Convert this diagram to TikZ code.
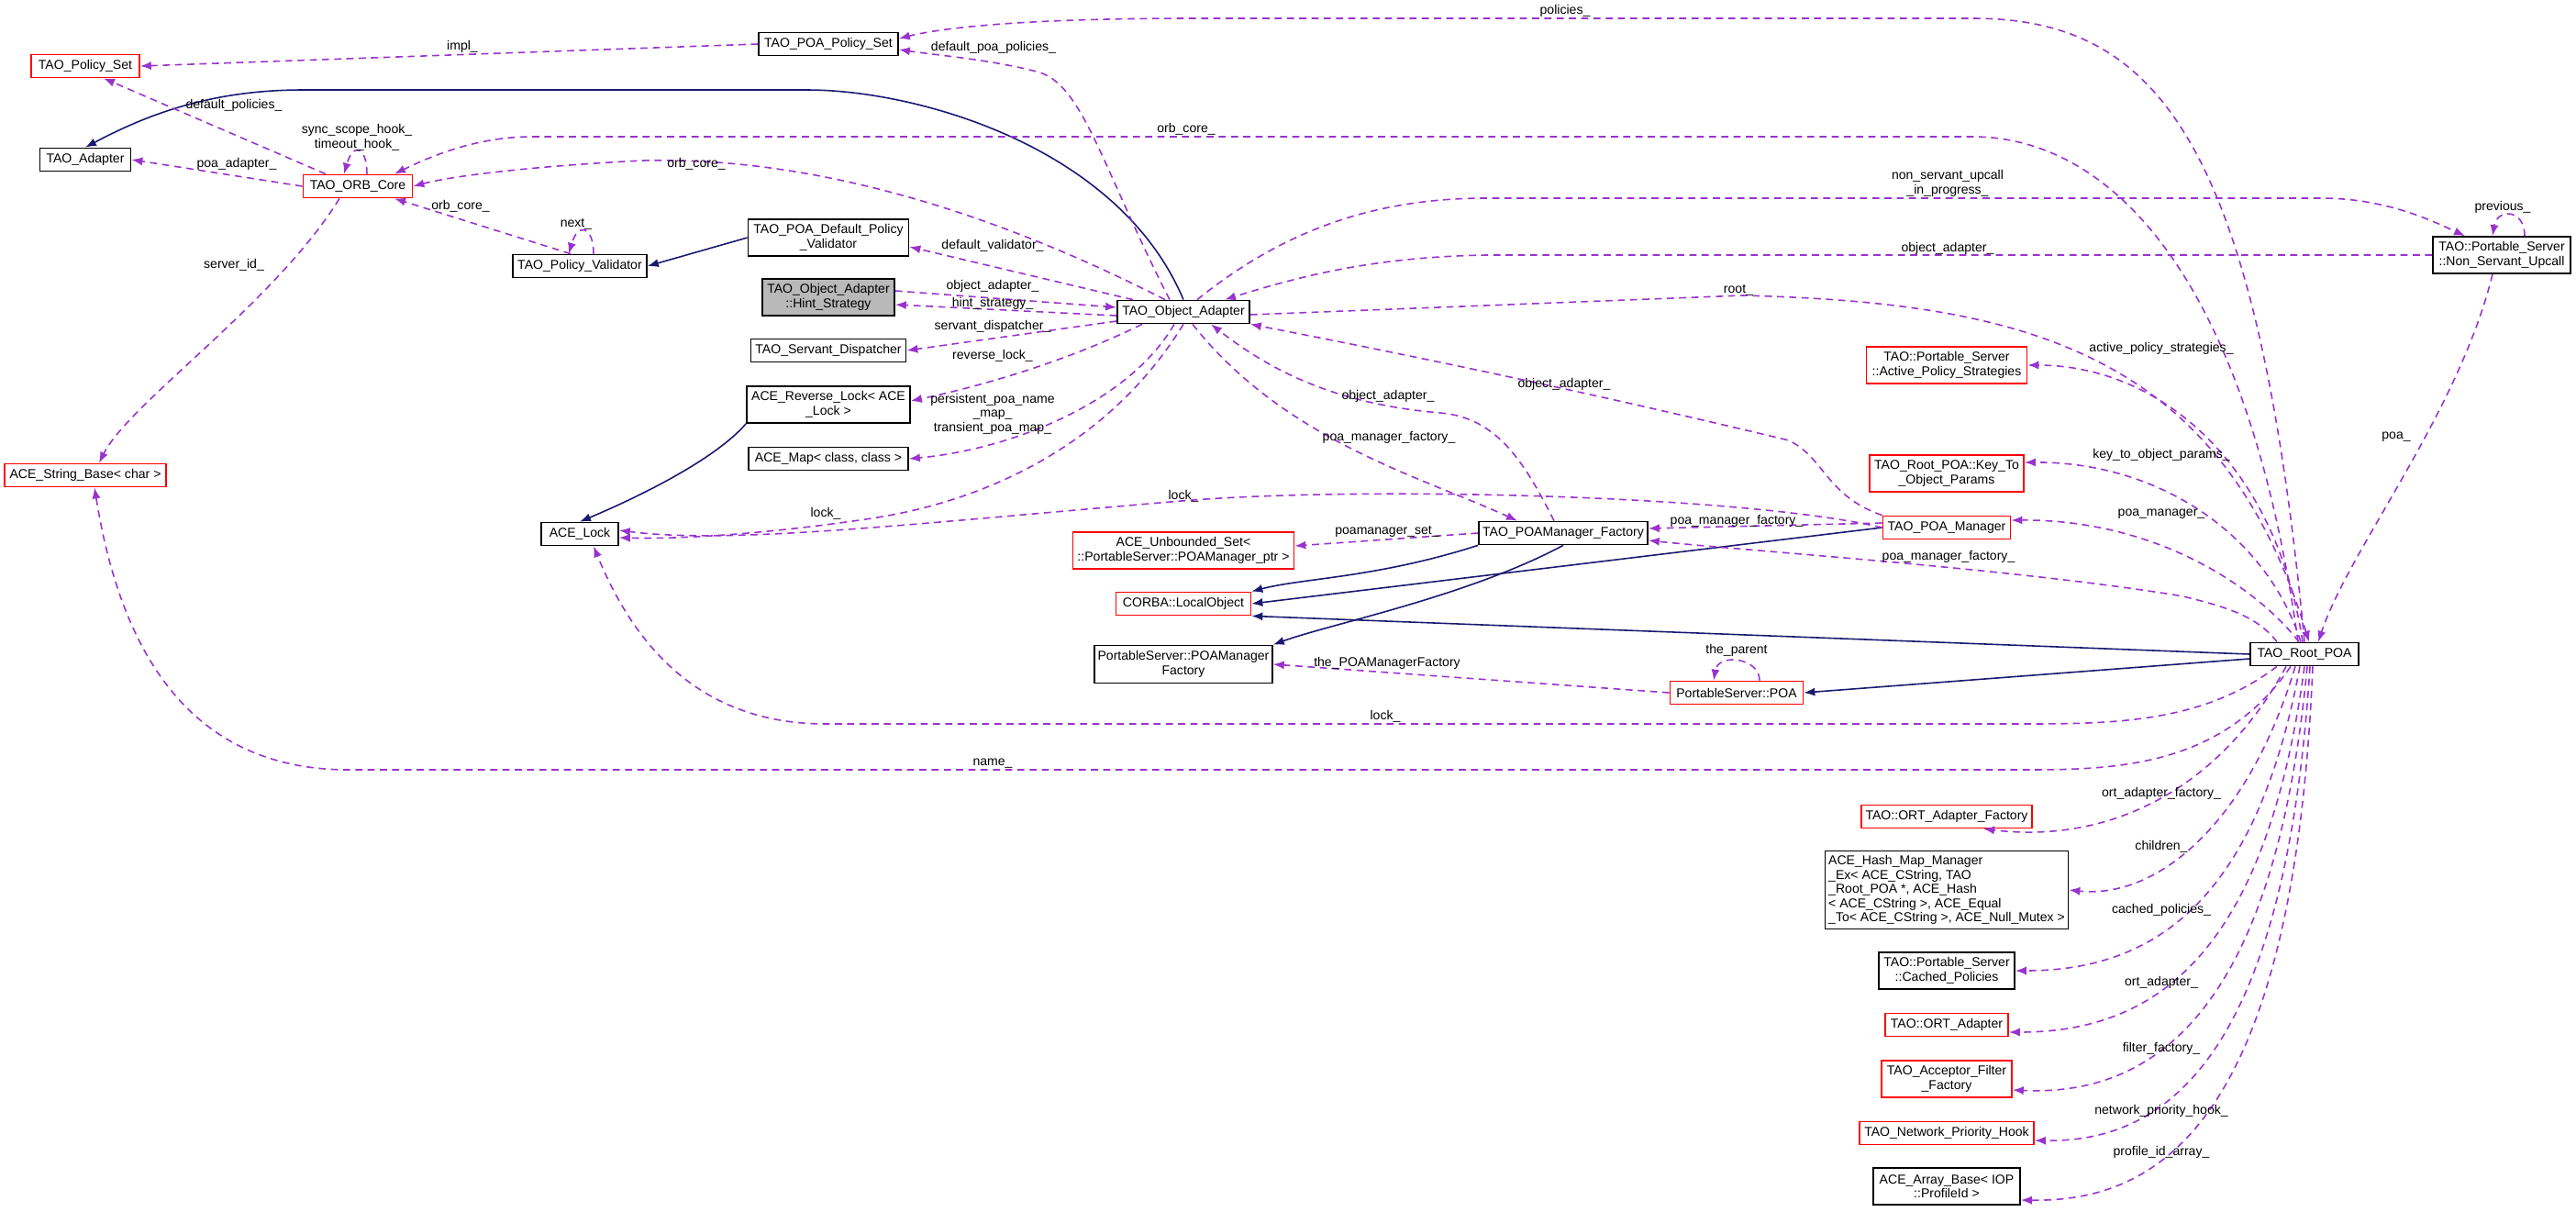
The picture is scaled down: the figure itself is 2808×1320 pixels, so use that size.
\documentclass[tikz,border=0pt]{standalone}
\usepackage{fontspec}
\setmainfont{Liberation Sans}
\usetikzlibrary{arrows.meta}
\definecolor{depcol}{HTML}{9A32CD}
\definecolor{inhcol}{HTML}{191970}
\tikzset{
  cls/.style={draw=black, fill=white, line width=0.5pt, minimum height=0.25cm, inner sep=1pt, align=center, font=\fontsize{4}{4.4}\selectfont},
  clsred/.style={cls, draw=red},
  clsgray/.style={cls, fill=gray!55},
  w/.style={minimum width=#1*0.01cm},
  h/.style={minimum height=#1*0.01cm},
  dep/.style={draw=depcol, dashed, dash pattern=on 2.2pt off 1.6pt, line width=0.45pt, -{Latex[length=3.4pt,width=2.6pt]}},
  inh/.style={draw=inhcol, line width=0.45pt, -{Latex[length=3.4pt,width=2.6pt]}},
  lbl/.style={inner sep=0pt, align=center, font=\fontsize{4}{4.4}\selectfont}
}
\begin{document}
\begin{tikzpicture}[x=0.01cm,y=-0.01cm]
\useasboundingbox (0,0) rectangle (2808,1320);
% classes
\node[clsred,w=118] (policyset) at (93,72) {TAO\_Policy\_Set};
\node[cls,w=152] (poapolicyset) at (903,48) {TAO\_POA\_Policy\_Set};
\node[cls,w=99] (adapter) at (93,174) {TAO\_Adapter};
\node[clsred,w=119] (orbcore) at (390,203) {TAO\_ORB\_Core};
\node[cls,w=146] (validator) at (632,290) {TAO\_Policy\_Validator};
\node[cls,w=175,h=40] (defvalidator) at (903,259) {TAO\_POA\_Default\_Policy\\\_Validator};
\node[clsgray,w=144,h=40] (hint) at (903,324) {TAO\_Object\_Adapter\\::Hint\_Strategy};
\node[cls,w=169] (dispatcher) at (903,382) {TAO\_Servant\_Dispatcher};
\node[cls,w=178,h=40] (revlock) at (903,441) {ACE\_Reverse\_Lock< ACE\\\_Lock >};
\node[cls,w=174] (acemap) at (903,500) {ACE\_Map< class, class >};
\node[clsred,w=176] (stringbase) at (93,518) {ACE\_String\_Base< char >};
\node[cls,w=84] (acelock) at (632,582) {ACE\_Lock};
\node[cls,w=144] (objadapter) at (1290,340) {TAO\_Object\_Adapter};
\node[cls,w=184] (mgrfactory) at (1704,581) {TAO\_POAManager\_Factory};
\node[clsred,w=241,h=40] (unbounded) at (1290,600) {ACE\_Unbounded\_Set<\\::PortableServer::POAManager\_ptr >};
\node[clsred,w=147] (localobj) at (1290,658) {CORBA::LocalObject};
\node[cls,w=193,h=41] (psmgrfactory) at (1290,724) {PortableServer::POAManager\\Factory};
\node[clsred,w=145] (pspoa) at (1893,755) {PortableServer::POA};
\node[cls,w=118] (rootpoa) at (2512,713) {TAO\_Root\_POA};
\node[clsred,w=139] (poamanager) at (2122,575) {TAO\_POA\_Manager};
\node[clsred,w=168,h=40] (keyto) at (2122,516) {TAO\_Root\_POA::Key\_To\\\_Object\_Params};
\node[clsred,w=175,h=40] (activestrat) at (2122,398) {TAO::Portable\_Server\\::Active\_Policy\_Strategies};
\node[cls,w=150,h=40] (nsu) at (2727,278) {TAO::Portable\_Server\\::Non\_Servant\_Upcall};
\node[clsred,w=186] (ortfactory) at (2122,890) {TAO::ORT\_Adapter\_Factory};
\node[cls,w=265,h=85,align=left] (hashmap) at (2122,970) {ACE\_Hash\_Map\_Manager\\\_Ex< ACE\_CString, TAO\\\_Root\_POA *, ACE\_Hash\\< ACE\_CString >, ACE\_Equal\\\_To< ACE\_CString >, ACE\_Null\_Mutex >};
\node[cls,w=148,h=40] (cached) at (2122,1058) {TAO::Portable\_Server\\::Cached\_Policies};
\node[clsred,w=134] (ortadapter) at (2122,1117) {TAO::ORT\_Adapter};
\node[clsred,w=142,h=40] (acceptor) at (2122,1176) {TAO\_Acceptor\_Filter\\\_Factory};
\node[clsred,w=190] (nethook) at (2122,1235) {TAO\_Network\_Priority\_Hook};
\node[cls,w=160,h=40] (arraybase) at (2122,1293) {ACE\_Array\_Base< IOP\\::ProfileId >};
% inheritance
\draw[inh] (objadapter.north) .. controls (1220,160) and (1000,98) .. (880,98) -- (330,98) .. controls (230,98) and (160,125) .. (adapter.north);
\draw[inh] (defvalidator.west) -- (validator.east);
\draw[inh] (revlock.south west) .. controls (780,500) and (700,540) .. (acelock.north);
\draw[inh] (mgrfactory.south west) .. controls (1500,630) and (1420,630) .. (localobj.north east);
\draw[inh] (mgrfactory.south) .. controls (1600,650) and (1450,680) .. (psmgrfactory.north east);
\draw[inh] (poamanager.west) -- (localobj.east);
\draw[inh] (rootpoa.west) -- (localobj.south east);
\draw[inh] ([yshift=-0.05cm]rootpoa.west) -- (pspoa.east);
% usage
\draw[dep] (poapolicyset.west) -- (policyset.east);
\draw[dep] ([xshift=-0.35cm]orbcore.north) -- ([xshift=0.2cm]policyset.south);
\draw[dep] (orbcore.west) -- (adapter.east);
\draw[dep] ([xshift=0.1cm]orbcore.north) .. controls +(0,-30) and +(10,-35) .. ([xshift=-0.15cm]orbcore.north);
\draw[dep] ([xshift=-0.2cm]orbcore.south) .. controls (300,330) and (140,440) .. ([xshift=0.15cm]stringbase.north);
\draw[dep] ([xshift=-0.1cm]validator.north) -- ([xshift=0.4cm]orbcore.south);
\draw[dep] ([xshift=0.15cm]validator.north) .. controls +(0,-30) and +(10,-35) .. ([xshift=-0.12cm]validator.north);
\draw[dep] ([xshift=-0.2cm]objadapter.north) .. controls (1100,240) and (900,170) .. (700,175) .. controls (600,180) and (500,190) .. (orbcore.east);
\draw[dep] ([xshift=-0.07cm]rootpoa.north) .. controls (2450,300) and (2300,149) .. (2150,149) -- (580,149) .. controls (520,149) and (470,170) .. ([xshift=0.4cm]orbcore.north);
\draw[dep] (rootpoa.north) .. controls (2460,150) and (2350,20) .. (2150,20) -- (1300,20) .. controls (1100,20) and (1020,32) .. ([yshift=0.06cm]poapolicyset.east);
\draw[dep] ([xshift=-0.15cm]objadapter.north) .. controls (1200,180) and (1180,90) .. (1130,78) .. controls (1080,65) and (1020,60) .. ([yshift=-0.06cm]poapolicyset.east);
\draw[dep] ([xshift=-0.55cm]objadapter.north) -- ([yshift=-0.1cm]defvalidator.east);
\draw[dep] ([yshift=0.07cm]hint.east) -- ([yshift=0.05cm]objadapter.west);
\draw[dep] ([yshift=-0.04cm]objadapter.west) -- ([yshift=-0.08cm]hint.east);
\draw[dep] ([yshift=-0.1cm]objadapter.west) -- (dispatcher.east);
\draw[dep] ([xshift=-0.45cm]objadapter.south) .. controls (1150,400) and (1050,425) .. ([yshift=0.04cm]revlock.east);
\draw[dep] ([xshift=-0.1cm]objadapter.south) .. controls (1230,440) and (1100,490) .. (acemap.east);
\draw[dep] ([xshift=0cm]objadapter.south) .. controls (1200,500) and (1050,550) .. (950,565) .. controls (850,580) and (750,588) .. ([yshift=-0.04cm]acelock.east);
\draw[dep] (poamanager.west) .. controls (1900,540) and (1500,530) .. (1300,545) .. controls (1000,570) and (800,594) .. ([yshift=0.04cm]acelock.east);
\draw[dep] ([xshift=-0.3cm]rootpoa.south) .. controls (2400,789) and (2300,789) .. (2200,789) -- (900,789) .. controls (760,789) and (690,700) .. ([xshift=0.15cm]acelock.south);
\draw[dep] ([xshift=-0.15cm]rootpoa.south) .. controls (2420,839) and (2300,839) .. (2200,839) -- (380,839) .. controls (200,839) and (130,700) .. ([xshift=0.1cm]stringbase.south);
\draw[dep] ([xshift=0.1cm]objadapter.south) .. controls (1400,480) and (1550,520) .. ([xshift=-0.5cm]mgrfactory.north);
\draw[dep] ([xshift=-0.1cm]mgrfactory.north) .. controls (1660,500) and (1630,455) .. (1570,450) .. controls (1450,440) and (1380,400) .. ([xshift=0.3cm]objadapter.south);
\draw[dep] (poamanager.north west) .. controls (1990,540) and (1990,500) .. (1950,480) .. controls (1700,420) and (1500,380) .. (objadapter.south east);
\draw[dep] ([yshift=-0.03cm]objadapter.east) -- (1900,322) .. controls (2200,330) and (2420,380) .. ([xshift=0.05cm]rootpoa.north);
\draw[dep] ([xshift=0.15cm]objadapter.north) .. controls (1400,250) and (1500,216) .. (1620,216) -- (2530,216) .. controls (2600,216) and (2650,240) .. ([xshift=-0.4cm]nsu.north);
\draw[dep] (nsu.west) -- (1620,278) .. controls (1500,280) and (1420,300) .. ([xshift=0.45cm]objadapter.north);
\draw[dep] ([xshift=0.25cm]nsu.north) .. controls +(0,-30) and +(5,-30) .. ([xshift=-0.1cm]nsu.north);
\draw[dep] ([xshift=-0.1cm]nsu.south) .. controls (2680,450) and (2560,600) .. ([xshift=0.15cm]rootpoa.north);
\draw[dep] ([xshift=-0.02cm]rootpoa.north) .. controls (2480,500) and (2350,398) .. (activestrat.east);
\draw[dep] ([xshift=-0.04cm]rootpoa.north) .. controls (2470,580) and (2350,503) .. ([yshift=0.12cm]keyto.east);
\draw[dep] ([xshift=-0.06cm]rootpoa.north) .. controls (2460,640) and (2350,566) .. ([yshift=0.08cm]poamanager.east);
\draw[dep] ([xshift=-0.3cm]rootpoa.north) .. controls (2460,670) and (2420,660) .. (2380,650) .. controls (2200,620) and (1900,600) .. ([yshift=-0.08cm]mgrfactory.east);
\draw[dep] ([yshift=0.05cm]poamanager.west) -- ([yshift=0.05cm]mgrfactory.east);
\draw[dep] (mgrfactory.west) -- ([yshift=0.05cm]unbounded.east);
\draw[dep] (pspoa.west) -- (psmgrfactory.east);
\draw[dep] ([xshift=0.25cm]pspoa.north) .. controls +(0,-25) and +(5,-30) .. ([xshift=-0.25cm]pspoa.north);
\draw[dep] ([xshift=-0.2cm]rootpoa.south) .. controls (2420,860) and (2300,920) .. ([xshift=0.4cm]ortfactory.south);
\draw[dep] ([xshift=-0.1cm]rootpoa.south) .. controls (2450,900) and (2350,980) .. (hashmap.east);
\draw[dep] ([xshift=-0.05cm]rootpoa.south) .. controls (2460,980) and (2350,1058) .. (cached.east);
\draw[dep] ([xshift=0cm]rootpoa.south) .. controls (2470,1040) and (2350,1125) .. ([yshift=-0.08cm]ortadapter.east);
\draw[dep] ([xshift=0.03cm]rootpoa.south) .. controls (2480,1100) and (2350,1195) .. ([yshift=-0.12cm]acceptor.east);
\draw[dep] ([xshift=0.06cm]rootpoa.south) .. controls (2490,1170) and (2350,1245) .. ([yshift=-0.08cm]nethook.east);
\draw[dep] ([xshift=0.09cm]rootpoa.south) .. controls (2500,1230) and (2350,1310) .. ([yshift=-0.15cm]arraybase.east);
% labels
\node[lbl] (limpl) at (504,51) {impl\_};
\node[lbl] (ldefpol) at (255,115) {default\_policies\_};
\node[lbl] (lpoaad) at (258,179) {poa\_adapter\_};
\node[lbl] (lhooks) at (389,150) {sync\_scope\_hook\_\\timeout\_hook\_};
\node[lbl] (lserver) at (255,289) {server\_id\_};
\node[lbl] (lorbv) at (502,225) {orb\_core\_};
\node[lbl] (lnext) at (628,244) {next\_};
\node[lbl] (lorboa) at (759,179) {orb\_core\_};
\node[lbl] (lorbroot) at (1293,141) {orb\_core\_};
\node[lbl] (lpolicies) at (1706,12) {policies\_};
\node[lbl] (ldefpoa) at (1083,52) {default\_poa\_policies\_};
\node[lbl] (ldefval) at (1082,268) {default\_validator\_};
\node[lbl] (loahint) at (1082,312) {object\_adapter\_};
\node[lbl] (lhint) at (1082,331) {hint\_strategy\_};
\node[lbl] (ldisp) at (1082,356) {servant\_dispatcher\_};
\node[lbl] (lrevlock) at (1082,388) {reverse\_lock\_};
\node[lbl] (lmaps) at (1082,451) {persistent\_poa\_name\\\_map\_\\transient\_poa\_map\_};
\node[lbl] (llockoa) at (900,560) {lock\_};
\node[lbl] (llockmgr) at (1290,541) {lock\_};
\node[lbl] (llockroot) at (1510,781) {lock\_};
\node[lbl] (lname) at (1082,832) {name\_};
\node[lbl] (loafact) at (1513,432) {object\_adapter\_};
\node[lbl] (lpmfoa) at (1514,477) {poa\_manager\_factory\_};
\node[lbl] (loamgr) at (1705,419) {object\_adapter\_};
\node[lbl] (lroot) at (1895,316) {root\_};
\node[lbl] (lnsup) at (2123,200) {non\_servant\_upcall\\\_in\_progress\_};
\node[lbl] (loansu) at (2123,271) {object\_adapter\_};
\node[lbl] (lprev) at (2728,226) {previous\_};
\node[lbl] (lpoa) at (2612,476) {poa\_};
\node[lbl] (lactive) at (2356,380) {active\_policy\_strategies\_};
\node[lbl] (lkeyto) at (2356,496) {key\_to\_object\_params\_};
\node[lbl] (lpoamgr) at (2356,560) {poa\_manager\_};
\node[lbl] (lpmfroot) at (2124,607) {poa\_manager\_factory\_};
\node[lbl] (lpmfmgr) at (1893,568) {poa\_manager\_factory\_};
\node[lbl] (lset) at (1512,579) {poamanager\_set\_};
\node[lbl] (lthemf) at (1512,723) {the\_POAManagerFactory};
\node[lbl] (lparent) at (1893,709) {the\_parent};
\node[lbl] (lortf) at (2356,865) {ort\_adapter\_factory\_};
\node[lbl] (lchildren) at (2356,923) {children\_};
\node[lbl] (lcached) at (2356,992) {cached\_policies\_};
\node[lbl] (lorta) at (2356,1071) {ort\_adapter\_};
\node[lbl] (lfilter) at (2356,1143) {filter\_factory\_};
\node[lbl] (lnethook) at (2356,1211) {network\_priority\_hook\_};
\node[lbl] (lprofile) at (2356,1256) {profile\_id\_array\_};
\end{tikzpicture}
\end{document}
